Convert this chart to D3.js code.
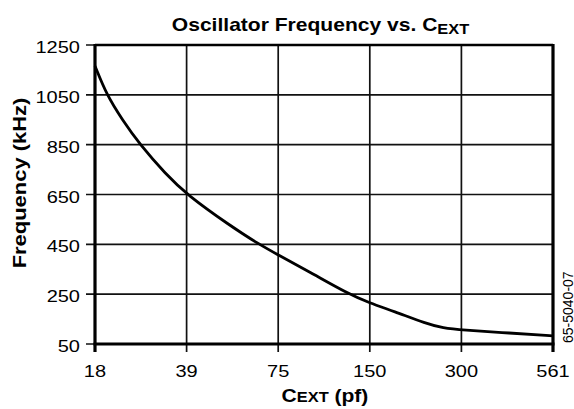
<!DOCTYPE html>
<html>
<head>
<meta charset="utf-8">
<script src="https://cdn.jsdelivr.net/npm/d3@7"></script>
<style>
  body { margin: 0; background: #fff; }
  svg text { font-family: "Liberation Sans", Arial, Helvetica, sans-serif; fill: #000; }
</style>
</head>
<body>
<script>
// x axis categories (capacitance, pF) - drawn equally spaced
var capLabels = ['18', '39', '75', '150', '300', '561']
// y axis ticks (kHz)
var freqTicks = [50, 250, 450, 650, 850, 1050, 1250]

// curve: position along the category axis, frequency in kHz
var curvePos  = [0, 0.127, 0.298, 0.49, 0.775, 1.0, 1.474, 1.783, 2.0, 2.383, 2.748, 3.0, 3.257, 3.62, 3.80, 4.0, 4.53, 5.0]
var curveFreq = [1166, 1050, 950, 850, 731, 650, 525, 452, 407, 331, 255, 214, 182, 131, 114, 106, 94, 83]

var width = 574, height = 409
var margin = {top: 45, right: 21, bottom: 65, left: 95}

var svg = d3.select('body').append('svg')
	.attr('width', width)
	.attr('height', height)

var x = d3.scaleLinear()
	.domain([0, capLabels.length - 1])
	.range([margin.left, width - margin.right])

var y = d3.scaleLinear()
	.domain([50, 1250])
	.range([height - margin.bottom, margin.top])

// grid
svg.append('g')
	.selectAll('line')
	.data(freqTicks)
	.enter()
	.append('line')
		.attr('x1', x(0) - 9)
		.attr('x2', x(5))
		.attr('y1', d => y(d))
		.attr('y2', d => y(d))
		.attr('stroke', '#111')
		.attr('stroke-width', 1.7)

svg.append('g')
	.selectAll('line')
	.data(d3.range(capLabels.length))
	.enter()
	.append('line')
		.attr('x1', d => x(d))
		.attr('x2', d => x(d))
		.attr('y1', y(1250))
		.attr('y2', y(50) + 8)
		.attr('stroke', '#111')
		.attr('stroke-width', 1.7)

// frame
svg.append('line')
	.attr('x1', x(0)).attr('x2', x(5))
	.attr('y1', y(1250)).attr('y2', y(1250))
	.attr('stroke', '#000').attr('stroke-width', 2.4)
svg.append('line')
	.attr('x1', x(0) - 1.5).attr('x2', x(5) + 1.5)
	.attr('y1', y(50)).attr('y2', y(50))
	.attr('stroke', '#000').attr('stroke-width', 3)
svg.append('line')
	.attr('x1', x(0)).attr('x2', x(0))
	.attr('y1', y(1250) - 1).attr('y2', y(50) + 8)
	.attr('stroke', '#000').attr('stroke-width', 3.2)
svg.append('line')
	.attr('x1', x(5)).attr('x2', x(5))
	.attr('y1', y(1250) - 1).attr('y2', y(50) + 8)
	.attr('stroke', '#000').attr('stroke-width', 3.2)

// curve
var line = d3.line()
	.x(d => x(d[0]))
	.y(d => y(d[1]))
	.curve(d3.curveBasis)

svg.append('path')
	.datum(d3.zip(curvePos, curveFreq))
	.attr('d', line)
	.attr('fill', 'none')
	.attr('stroke', '#000')
	.attr('stroke-width', 2.8)
	.attr('stroke-linejoin', 'round')

// tick labels (the font in the picture is set wide, hence the x scale)
svg.append('g')
	.selectAll('text')
	.data(freqTicks)
	.enter()
	.append('text')
		.attr('transform', d => 'translate(80,' + (y(d) + 8) + ') scale(1.25,1)')
		.attr('text-anchor', 'end')
		.style('font-size', '16px')
		.text(d => d)

svg.append('g')
	.selectAll('text')
	.data(d3.range(capLabels.length))
	.enter()
	.append('text')
		.attr('transform', d => 'translate(' + x(d) + ',376.5) scale(1.25,1)')
		.attr('text-anchor', 'middle')
		.style('font-size', '16px')
		.text(d => capLabels[d])

// title
var title = svg.append('text')
	.attr('transform', 'translate(320.5,31) scale(1.17,1)')
	.attr('text-anchor', 'middle')
	.style('font-size', '18px')
	.style('font-weight', 'bold')
title.append('tspan').text('Oscillator Frequency vs. C')
title.append('tspan').attr('dy', 3).style('font-size', '14px').text('EXT')

// x axis title
var xt = svg.append('text')
	.attr('transform', 'translate(325,401.5) scale(1.17,1)')
	.attr('text-anchor', 'middle')
	.style('font-size', '18px')
	.style('font-weight', 'bold')
xt.append('tspan').text('C')
xt.append('tspan').style('font-size', '14px').text('EXT')
xt.append('tspan').text(' (pf)')

// y axis title
svg.append('text')
	.attr('transform', 'translate(26,183) rotate(-90) scale(1.22,1)')
	.attr('text-anchor', 'middle')
	.style('font-size', '18px')
	.style('font-weight', 'bold')
	.text('Frequency (kHz)')

// figure code
svg.append('text')
	.attr('transform', 'translate(572.5,343) rotate(-90)')
	.style('font-size', '14px')
	.text('65-5040-07')
</script>
</body>
</html>
